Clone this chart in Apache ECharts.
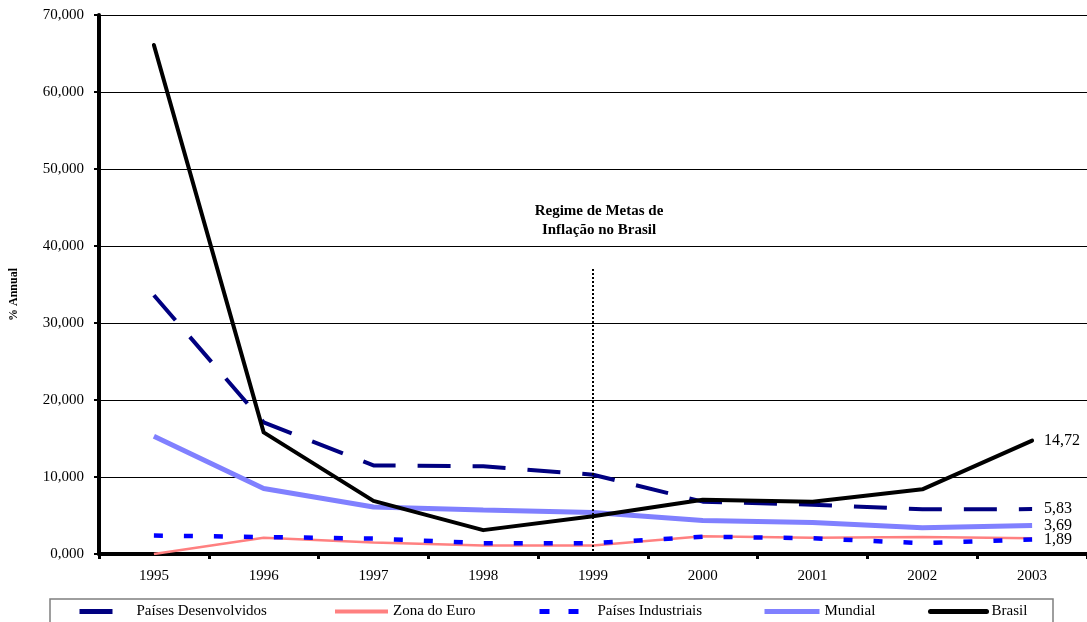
<!DOCTYPE html>
<html>
<head>
    <meta charset="utf-8">
    <title>Inflação anual</title>
    <script src="https://cdn.jsdelivr.net/npm/echarts@6/dist/echarts.min.js"></script>
    <style>
        html, body { margin: 0; padding: 0; background: #fff; }
    </style>
</head>
<body>
<div id="main" style="width: 1087px;height:622px;"></div>
<script type="text/javascript">
    // dados
    const anos = ['1995', '1996', '1997', '1998', '1999', '2000', '2001', '2002', '2003'];
    const paisesDesenvolvidos = [33.6, 17.1, 11.5, 11.4, 10.3, 6.8, 6.4, 5.8, 5.83];
    const zonaEuro = [0, 2.1, 1.5, 1.1, 1.1, 2.3, 2.1, 2.2, 2.05];
    const paisesIndustriais = [2.4, 2.2, 2.0, 1.4, 1.4, 2.25, 2.05, 1.4, 1.89];
    const mundial = [15.3, 8.5, 6.1, 5.7, 5.4, 4.35, 4.1, 3.4, 3.69];
    const brasil = [66.1, 15.8, 6.9, 3.1, 4.9, 7.05, 6.8, 8.4, 14.72];

    const fonte = 'Liberation Serif';
    const myChart = echarts.init(document.getElementById('main'));

    function rotuloFinal(p) {
        return p.value.toFixed(2).replace('.', ',');
    }

    function legenda(nome, left, width, linha) {
        return {
            data: [nome],
            left: left,
            top: 604,
            padding: 0,
            itemWidth: width,
            itemHeight: 14,
            // esconde o símbolo, fica só a linha
            itemStyle: {color: 'rgba(0,0,0,0)', borderColor: 'rgba(0,0,0,0)', borderWidth: 0},
            lineStyle: linha,
            textStyle: {fontFamily: fonte, fontSize: 15, color: '#000'}
        };
    }

    const rotulo = {show: true, formatter: rotuloFinal, distance: 12, fontFamily: fonte, fontSize: 16, color: '#000'};

    const option = {
        animation: false,
        title: {
            text: 'Regime de Metas de\nInflação no Brasil',
            left: 594,
            top: 197,
            textAlign: 'center',
            textStyle: {fontFamily: fonte, fontSize: 15, fontWeight: 'bold', color: '#000', lineHeight: 19}
        },
        grid: {left: 97, top: 15, width: 993, height: 539},
        legend: [
            legenda('Países Desenvolvidos', 77, 52, {width: 5}),
            legenda('Zona do Euro', 333, 53, {width: 4}),
            legenda('Países Industriais', 537, 53, {width: 5, type: [10, 19]}),
            legenda('Mundial', 762, 55, {width: 5}),
            legenda('Brasil', 928, 56, {width: 5})
        ],
        graphic: [{
            type: 'rect',
            shape: {x: 50, y: 599, width: 1003, height: 40},
            style: {fill: 'none', stroke: '#7f7f7f', lineWidth: 1.5}
        }],
        xAxis: {
            type: 'category',
            data: anos,
            boundaryGap: true,
            axisLine: {lineStyle: {color: '#000', width: 4}},
            axisTick: {show: true, length: 5, lineStyle: {color: '#000', width: 3}},
            axisLabel: {fontFamily: fonte, fontSize: 15, color: '#000', margin: 15},
            splitLine: {show: false}
        },
        yAxis: {
            type: 'value',
            min: 0,
            max: 70,
            interval: 10,
            name: '% Annual',
            nameLocation: 'middle',
            nameRotate: 90,
            nameGap: 79,
            nameTextStyle: {fontFamily: fonte, fontSize: 12, fontWeight: 'bold', color: '#000', padding: [0, 20, 0, 0]},
            axisLine: {show: true, lineStyle: {color: '#000', width: 4}},
            axisTick: {show: true, length: 5, lineStyle: {color: '#000', width: 2}},
            axisLabel: {
                fontFamily: fonte, fontSize: 15, color: '#000', margin: 15,
                formatter: function (v) { return v.toFixed(3).replace('.', ','); }
            },
            splitLine: {lineStyle: {color: '#000', width: 1}}
        },
        series: [
            {
                name: 'Países Desenvolvidos',
                type: 'line',
                data: paisesDesenvolvidos,
                symbol: 'none',
                color: '#000080',
                lineStyle: {color: '#000080', width: 4, type: [33, 22]},
                endLabel: rotulo
            },
            {
                name: 'Zona do Euro',
                type: 'line',
                data: zonaEuro,
                symbol: 'none',
                color: '#ff8080',
                lineStyle: {color: '#ff8080', width: 2.5}
            },
            {
                name: 'Países Industriais',
                type: 'line',
                data: paisesIndustriais,
                symbol: 'none',
                color: '#0000ff',
                lineStyle: {color: '#0000ff', width: 4.5, type: [9, 21]},
                endLabel: rotulo
            },
            {
                name: 'Mundial',
                type: 'line',
                data: mundial,
                symbol: 'none',
                color: '#8080ff',
                lineStyle: {color: '#8080ff', width: 5},
                endLabel: rotulo
            },
            {
                name: 'Brasil',
                type: 'line',
                data: brasil,
                symbol: 'none',
                color: '#000',
                lineStyle: {color: '#000', width: 4, cap: 'round', join: 'round'},
                endLabel: rotulo,
                markLine: {
                    silent: true,
                    symbol: 'none',
                    label: {show: false},
                    lineStyle: {color: '#000', width: 2, type: [2, 2]},
                    data: [[{coord: ['1999', 37]}, {coord: ['1999', 0]}]]
                }
            }
        ]
    };
    myChart.setOption(option);
</script>
</body>
</html>
